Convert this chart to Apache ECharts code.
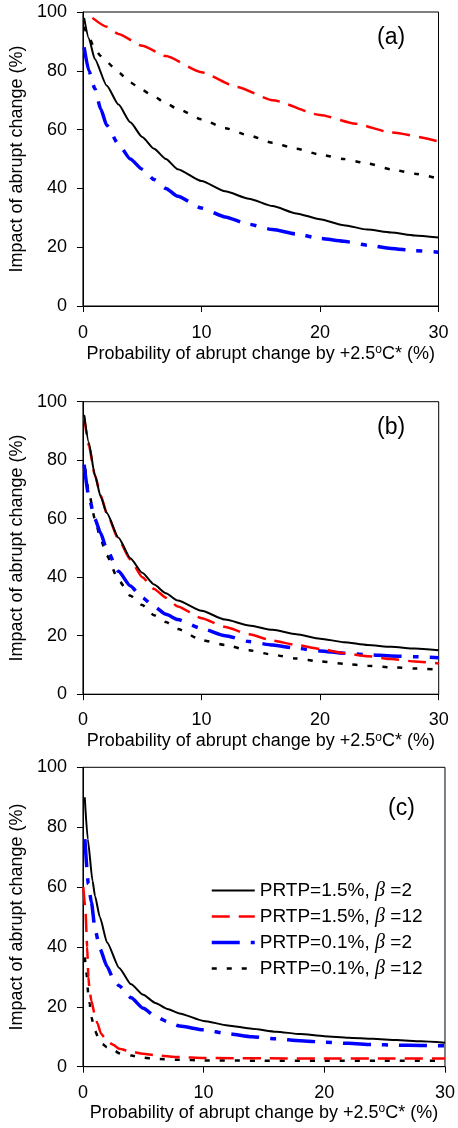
<!DOCTYPE html>
<html>
<head>
<meta charset="utf-8">
<script src="https://cdn.jsdelivr.net/npm/echarts@6/dist/echarts.min.js"></script>
<style>
html,body{margin:0;padding:0;background:#fff;}
#c{width:458px;height:1128px;}
</style>
</head>
<body>
<div id="c"></div>
<script>
// ---------- Tick labels / axes ----------
const xTicks = [0, 10, 20, 30];
const yTicks = [0, 20, 40, 60, 80, 100];
const panelLabels = ['(a)', '(b)', '(c)'];
const seriesNames = ['PRTP=1.5%, β =2', 'PRTP=1.5%, β =12', 'PRTP=0.1%, β =2', 'PRTP=0.1%, β =12'];
const xTitle = 'Probability of abrupt change by +2.5{sup|o}C* (%)';
const yTitle = 'Impact of abrupt change (%)';

// ---------- Panel (a) ----------
const a_s1_x = [0.1,0.5,1,2,3,4,5,6,7,8,10,12,14,16,18,20,22,24,26,28,30];
const a_s1_y = [98,91,84,75,68.5,62.5,57.5,53.5,50,46.5,42.5,39,36.5,34,31.5,29.5,27.5,26,25,24,23.3];
const a_s2_x = [0.8,2,3,5,7,10,13,16,20,23,26,30];
const a_s2_y = [98,95,92.5,88.5,85,79.5,74.5,70,65,62,59,56];
const a_s3_x = [0.1,0.5,1,1.5,2,3,4,5,6,7,8,10,12,14,16,18,20,22,24,26,28,30];
const a_s3_y = [88,80,74,67,61.5,55,50,46.5,43,40,37.3,33.3,30.3,27.8,26,24.5,23,22,20.7,19.6,18.8,18.3];
const a_s4_x = [0.1,0.5,1,1.5,2,3,4,5,6,7,8,10,12,14,16,18,20,22,24,26,28,30];
const a_s4_y = [95,91.5,87.5,85,83,79.5,76,73.5,71.2,69,67,63.5,60.5,58,55.5,53.5,51.5,50,48.5,46.5,45,43.3];

// ---------- Panel (b) ----------
const b_s1_x = [0.1,0.5,1,1.5,2,3,4,5,6,7,8,10,12,14,16,18,20,22,24,26,28,30];
const b_s1_y = [95.5,86,75,67.5,62,53.5,46.5,41.5,37.5,34.5,32,28.5,25.5,23.5,22,20.5,19,17.8,16.8,16.2,15.6,15];
const b_s2_x = [0.1,0.5,1,1.5,2,3,4,5,6,7,8,10,12,14,16,18,20,22,24,26,28,30];
const b_s2_y = [95,85,75,68,62,53,46,40,36,33,30,26,23,20.5,18.3,16.8,15.5,14,13,12,11.2,10.5];
const b_s3_x = [0.1,0.5,1,1.5,2,3,4,5,6,7,8,10,12,14,16,18,20,22,24,26,28,30];
const b_s3_y = [78.5,67.5,60,55,49.5,42,37,33,30,27.3,25.5,22.5,20,18,16.8,15.7,14.8,14,13.5,13.1,12.8,12.5];
const b_s4_x = [0.2,0.5,1,1.5,2,3,4,5,6,7,8,10,12,14,16,18,20,22,24,26,28,30];
const b_s4_y = [77,69,60,53,47.5,39,33.7,30.5,27,24.7,22.3,18.5,16.8,15,13.5,12.2,11.2,10.4,9.7,9.2,8.8,8.4];

// ---------- Panel (c) ----------
const c_s1_x = [0.15,0.4,0.8,1,1.4,2,3,4,5,6,7,8,10,12,14,16,18,20,22,24,26,28,30];
const c_s1_y = [90,76,62,57,50,41.5,33,27.5,24,21.3,19.3,17.8,15.3,13.8,12.7,11.7,10.9,10.2,9.7,9.3,8.9,8.5,8];
const c_s2_x = [0.03,0.2,0.35,0.45,0.55,0.7,1,1.2,1.5,2,2.5,3,4,5,6,8,10,15,20,25,30];
const c_s2_y = [60,53,40,30,25.5,22,17,14.5,11,8.5,7.3,6,5,4.3,3.8,3.2,2.9,2.8,2.7,2.7,2.7];
const c_s3_x = [0.16,0.45,0.7,1,1.4,2,2.5,3,4,5,6,7,8,10,12,14,16,18,20,22,24,26,28,30];
const c_s3_y = [76,61,55,46,39.5,33.5,29.5,27,23,19.5,16.8,15,13.6,12.3,11,10,9.3,8.7,8.2,7.8,7.4,7.2,7.1,7];
const c_s4_x = [0.16,0.3,0.45,0.56,0.7,1,1.3,1.6,2,2.6,3,4,5,6,8,10,15,20,25,30];
const c_s4_y = [36.5,31,24,21,16.5,12,9.5,7.6,6.5,5.4,4.5,3.7,3,2.6,2.3,2.1,2,2,2,2];

const FONT = "'Liberation Sans', Arial, sans-serif";

const styles = [
  {color:'#000000', width:2, type:'solid'},
  {color:'#FF0000', width:2.5, type:[18,9]},
  {color:'#0000FF', width:3.5, type:[28,11,6,11]},
  {color:'#000000', width:2.5, type:[5,10]}
];

const panels = [
  [[a_s1_x,a_s1_y],[a_s2_x,a_s2_y],[a_s3_x,a_s3_y],[a_s4_x,a_s4_y]],
  [[b_s1_x,b_s1_y],[b_s2_x,b_s2_y],[b_s3_x,b_s3_y],[b_s4_x,b_s4_y]],
  [[c_s1_x,c_s1_y],[c_s2_x,c_s2_y],[c_s3_x,c_s3_y],[c_s4_x,c_s4_y]]
];

const grids = [
  {left:71.5, top:12, width:367, height:294},
  {left:71.7, top:401.7, width:367, height:292.5},
  {left:72.7, top:767.3, width:375, height:299.4}
];
const nameGaps = [38, 37, 35];
const labelMargins = [18, 17, 17];
const labelPos = [{left:377, top:26},{left:377, top:416},{left:388, top:797}];

const xAxes = grids.map((g,i)=>({
  type:'value', gridIndex:i, min:xTicks[0], max:xTicks[xTicks.length-1],
  interval: xTicks[1]-xTicks[0],
  axisLine:{show:true, lineStyle:{color:'#000', width:1}},
  axisTick:{show:true, inside:false, length:6, lineStyle:{color:'#000'}},
  splitLine:{show:false},
  axisLabel:{fontSize:18, color:'#000', fontFamily:FONT, margin:labelMargins[i]},
  name: xTitle, nameLocation:'middle', nameGap:nameGaps[i],
  nameTextStyle:{fontSize:18, color:'#000', fontFamily:FONT, lineHeight:20,
    rich:{sup:{fontSize:12, lineHeight:12, verticalAlign:'top', color:'#000', fontFamily:FONT}}}
}));
const yAxes = grids.map((g,i)=>({
  type:'value', gridIndex:i, min:yTicks[0], max:yTicks[yTicks.length-1],
  interval: yTicks[1]-yTicks[0],
  axisLine:{show:true, lineStyle:{color:'#000', width:1}},
  axisTick:{show:true, inside:false, length:6, lineStyle:{color:'#000'}},
  splitLine:{show:false},
  axisLabel:{fontSize:18, color:'#000', fontFamily:FONT, margin:16},
  name: yTitle, nameLocation:'middle', nameGap:45,
  nameTextStyle:{fontSize:18, color:'#000', fontFamily:FONT}
}));

const series = [];
panels.forEach((p,pi)=>{
  p.forEach((xy,si)=>{
    const st = styles[si];
    series.push({
      type:'line', name: seriesNames[si], xAxisIndex:pi, yAxisIndex:pi,
      data: xy[0].map((x,k)=>[x, xy[1][k]]),
      symbol:'none', showSymbol:false, smooth:0.2, smoothMonotone:'x',
      lineStyle:{color:st.color, width:st.width, type:st.type, cap:'butt'},
      itemStyle:{color:st.color},
      z: 10 - si,
      animation:false
    });
  });
});

const chart = echarts.init(document.getElementById('c'), null, {renderer:'canvas'});
chart.setOption({
  animation:false,
  backgroundColor:'#fff',
  grid: grids.map(g=>Object.assign({show:true, borderColor:'#000', borderWidth:1, backgroundColor:'transparent', containLabel:false}, g)),
  xAxis: xAxes,
  yAxis: yAxes,
  title: panelLabels.map((t,i)=>({text:t, left:labelPos[i].left, top:labelPos[i].top, padding:0,
    textStyle:{fontSize:23, fontWeight:'normal', color:'#000', fontFamily:FONT}})),
  legend:{
    data: seriesNames,
    orient:'vertical', left:210, top:880.5,
    itemWidth:43, itemHeight:14, itemGap:6, padding:0,
    itemStyle:{opacity:0, borderWidth:0},
    lineStyle:{width:'inherit', type:'inherit', color:'inherit'},
    formatter: function(n){ return n.replace('β','{b|β}'); },
    textStyle:{fontSize:19, color:'#000', fontFamily:FONT, lineHeight:19,
      rich:{b:{fontSize:20, lineHeight:19, fontStyle:'italic', fontFamily:"'Liberation Serif', 'DejaVu Serif', serif", color:'#000'}}}
  },
  graphic:[
    {type:'rect', shape:{x:0, y:751.5, width:458, height:5}, style:{fill:'#fff'}, z:100}
  ],
  series: series
});
</script>
</body>
</html>
